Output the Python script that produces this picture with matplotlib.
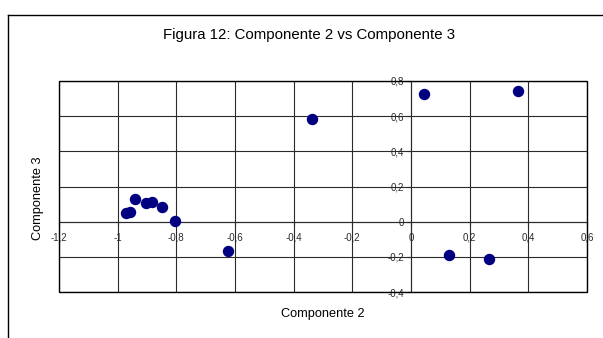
import matplotlib
matplotlib.use("Agg")
import matplotlib.pyplot as plt
from matplotlib.lines import Line2D
from matplotlib.patches import Rectangle
from matplotlib.ticker import FuncFormatter, MultipleLocator

plt.rcParams["font.family"] = ["Liberation Sans", "DejaVu Sans"]

# Componente 2 (x) vs Componente 3 (y)
comp2 = [-0.973, -0.958, -0.941, -0.903, -0.884, -0.850, -0.806, -0.625,
         -0.336, 0.046, 0.130, 0.265, 0.366]
comp3 = [0.048, 0.057, 0.131, 0.108, 0.114, 0.082, 0.002, -0.165,
         0.583, 0.725, -0.188, -0.210, 0.744]

title = "Figura 12: Componente 2 vs Componente 3"
xlabel = "Componente 2"
ylabel = "Componente 3"


def comma_fmt(v, _pos):
    # spreadsheet style decimal comma, no trailing zeros
    if abs(v) < 1e-9:
        return "0"
    return f"{v:g}".replace(".", ",")


fig = plt.figure(figsize=(6.03, 3.38), dpi=100)
ax = fig.add_axes([59 / 603, 1 - 292 / 338, (587 - 59) / 603, (292 - 81) / 338])

ax.set_xlim(-1.2, 0.6)
ax.set_ylim(-0.4, 0.8)
ax.xaxis.set_major_locator(MultipleLocator(0.2))
ax.yaxis.set_major_locator(MultipleLocator(0.2))
ax.xaxis.set_major_formatter(FuncFormatter(comma_fmt))
ax.yaxis.set_major_formatter(FuncFormatter(comma_fmt))

ax.grid(True, color="#2a2a2a", linewidth=0.8)
ax.set_axisbelow(True)

# axes cross at the origin, like the spreadsheet chart
ax.spines["left"].set_position(("data", 0))
ax.spines["bottom"].set_position(("data", 0))
ax.spines["top"].set_visible(False)
ax.spines["right"].set_visible(False)
for s in ("left", "bottom"):
    ax.spines[s].set_linewidth(0.8)
    ax.spines[s].set_color("#2a2a2a")
ax.add_patch(Rectangle((0, 0), 1, 1, transform=ax.transAxes, fill=False,
                       edgecolor="black", linewidth=1.0, zorder=5, clip_on=False))

ax.tick_params(axis="both", direction="out", length=3, width=0.8,
               labelsize=7, colors="#2a2a2a")
ax.tick_params(axis="x", pad=5)
ax.tick_params(axis="y", pad=2)

ax.scatter(comp2, comp3, s=52, color="#000080", zorder=6, clip_on=False)

fig.text(309 / 603, 1 - 35 / 338, title, ha="center", va="center", fontsize=10.8)
fig.text(323 / 603, 1 - 314 / 338, xlabel, ha="center", va="center", fontsize=9.2)
fig.text(38 / 603, 1 - 198 / 338, ylabel, ha="center", va="center",
         fontsize=9.2, rotation=90)

# outer chart frame, cut off at the right and bottom edges
fig.add_artist(Line2D([8 / 603, 8 / 603], [0, 1 - 15 / 338], color="black", lw=1.0))
fig.add_artist(Line2D([8 / 603, 1], [1 - 15 / 338, 1 - 15 / 338], color="black", lw=1.0))

fig.savefig("out.png", dpi=100)
